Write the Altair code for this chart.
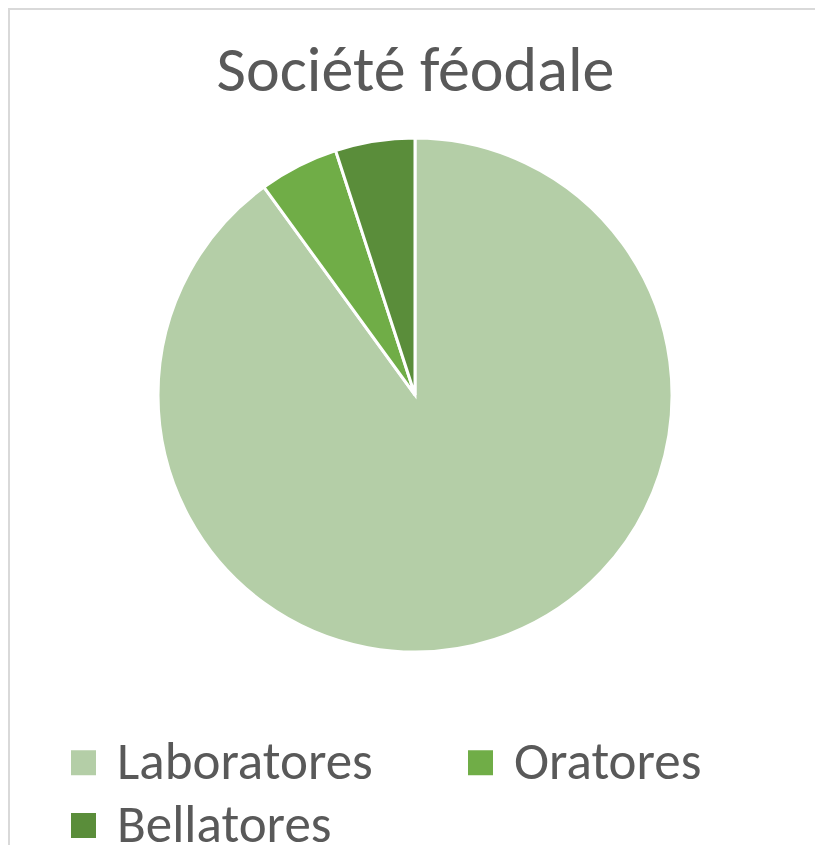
import altair as alt
import pandas as pd

categories = ["Laboratores", "Oratores", "Bellatores"]
values = [90, 5, 5]
colors = ["#B4CEA7", "#70AD47", "#5A8D3A"]
order_idx = [0, 1, 2]

df = pd.DataFrame({"cat": categories, "val": values, "ord": order_idx})
frame_df = pd.DataFrame({"k": [0]})

FONT = "Carlito, Calibri, Lato, sans-serif"
W, H = 807, 837

pie = alt.Chart(df).mark_arc(outerRadius=257, stroke="white", strokeWidth=3).encode(
    x=alt.value(407),
    y=alt.value(387),
    theta=alt.Theta("val:Q", stack=True),
    order=alt.Order("ord:Q"),
    color=alt.Color(
        "cat:N",
        scale=alt.Scale(domain=categories, range=colors),
        sort=categories,
        legend=alt.Legend(
            title=None,
            orient="none",
            legendX=49,
            legendY=728,
            direction="horizontal",
            columns=2,
            padding=0,
            symbolType="square",
            symbolSize=625,
            symbolStrokeWidth=0,
            labelFontSize=53,
            labelFont=FONT,
            labelColor="#595959",
            labelOffset=7,
            columnPadding=81,
            rowPadding=9,
            labelLimit=400,
        ),
    ),
)

frame_top = alt.Chart(frame_df).mark_rule(color="#D9D9D9", strokeWidth=2).encode(
    x=alt.value(0), x2=alt.value(W), y=alt.value(1)
)
frame_left = alt.Chart(frame_df).mark_rule(color="#D9D9D9", strokeWidth=2).encode(
    x=alt.value(1), y=alt.value(0), y2=alt.value(H)
)

chart = alt.layer(frame_top, frame_left, pie).properties(
    width=W,
    height=H,
    padding=0,
    autosize=alt.AutoSizeParams(type="none"),
    title=alt.TitleParams(
        "Société féodale",
        fontSize=64,
        font=FONT,
        fontWeight="normal",
        color="#595959",
        anchor="middle",
        baseline="alphabetic",
        offset=0,
        dx=4,
        dy=148,
    ),
).configure_view(stroke=None)

chart.save("out.html", embed_options={"renderer": "svg", "actions": False})
